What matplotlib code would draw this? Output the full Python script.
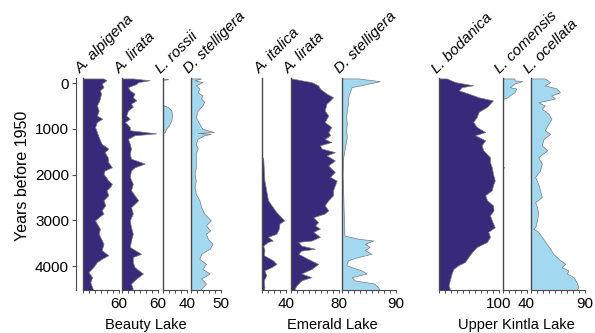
import matplotlib
matplotlib.use('Agg')
import matplotlib.pyplot as plt

plt.rcParams['font.family'] = ['Liberation Sans', 'DejaVu Sans']

# colours
dark = '#39297a'
light = '#a3d9f0'

# ---- Beauty Lake ----
ba_alp_age = [-100, -60, 10, 90, 160, 230, 380, 490, 600, 710, 780, 850, 960, 1070, 1180, 1330, 1430, 1510,
              1620, 1730, 1840, 1910, 1980, 2130, 2200, 2270, 2340, 2450, 2560, 2670, 2780, 2850, 2930, 3000,
              3070, 3180, 3290, 3400, 3510, 3650, 3760, 3840, 3910, 4020, 4130, 4240, 4350, 4460, 4520]
ba_alp_val = [35, 40, 32, 35, 29, 31, 28, 24, 27, 24, 33, 24, 21, 24, 27, 32, 43, 37,
              42, 43, 49, 37, 35, 43, 49, 46, 40, 43, 35, 38, 32, 35, 27, 21,
              24, 29, 27, 31, 35, 32, 43, 32, 24, 18, 10, 16, 13, 16, 18]

ba_lir_age = [-100, -60, -20, 20, 90, 160, 230, 310, 380, 450, 520, 600, 710, 780, 850, 960, 1030, 1100,
              1140, 1220, 1330, 1430, 1540, 1650, 1760, 1840, 1910, 2050, 2200, 2340, 2450, 2560, 2640,
              2710, 2850, 3000, 3150, 3290, 3440, 3580, 3730, 3800, 3910, 4020, 4160, 4270, 4380, 4490, 4520]
ba_lir_val = [18, 46, 27, 24, 10, 13, 21, 18, 24, 15, 18, 10, 7, 13, 5, 13, 13, 57,
              21, 10, 13, 15, 13, 15, 38, 21, 15, 13, 18, 15, 21, 27, 21,
              15, 18, 13, 15, 18, 15, 13, 32, 18, 18, 21, 35, 24, 15, 18, 16]

ba_ros_age = [-100, -90, -80, -70, 450, 490, 520, 600, 700, 810, 920, 1000, 1070, 1100, 4520]
ba_ros_val = [0, 8, 8, 0, 0, 1, 8, 14, 15, 14, 10, 5, 3, 0, 0]

ba_ste_age = [-100, -60, -20, 50, 120, 200, 270, 340, 410, 490, 600, 740, 890, 1000, 1070, 1090, 1110,
              1140, 1220, 1330, 1430, 1540, 1690, 1840, 1980, 2130, 2270, 2420, 2560, 2710, 2850, 3000,
              3110, 3220, 3290, 3400, 3510, 3620, 3730, 3840, 3950, 4060, 4160, 4270, 4380, 4490, 4520]
ba_ste_val = [17, 6, 19, 8, 14, 11, 19, 17, 22, 19, 11, 8, 14, 19, 38, 11, 33,
              22, 11, 8, 11, 8, 8, 8, 6, 8, 6, 8, 14, 17, 22, 33,
              25, 32, 25, 28, 36, 31, 17, 14, 25, 19, 31, 17, 25, 17, 16]

# ---- Emerald Lake ----
em_ita_age = [-100, 1600, 1650, 1900, 2130, 2340, 2560, 2710, 2820, 2890, 3000, 3070, 3180, 3290, 3360,
              3440, 3470, 3550, 3650, 3760, 3870, 3950, 4020, 4090, 4200, 4310, 4460, 4520]
em_ita_val = [0, 0, 2, 3, 4, 7, 10, 18, 24, 29, 37, 29, 28, 24, 10,
              18, 10, 2, 4, 3, 18, 24, 16, 4, 7, 3, 4, 3]

em_lir_age = [-100, -60, -20, 50, 120, 230, 310, 380, 450, 600, 710, 780, 850, 960, 1070, 1140, 1220,
              1290, 1360, 1430, 1510, 1580, 1690, 1800, 1870, 1940, 2050, 2130, 2230, 2340, 2450, 2560,
              2670, 2780, 2850, 2930, 3040, 3110, 3180, 3250, 3360, 3440, 3470, 3550, 3620, 3660, 3730,
              3840, 3950, 4060, 4160, 4240, 4310, 4420, 4490, 4520]
em_lir_val = [2, 18, 35, 46, 49, 60, 71, 66, 60, 57, 63, 60, 57, 68, 63, 66, 57,
              68, 49, 52, 74, 60, 74, 63, 68, 74, 66, 77, 74, 71, 71, 63,
              57, 63, 57, 38, 46, 41, 49, 38, 49, 35, 13, 18, 41, 18, 13,
              29, 46, 35, 18, 35, 18, 10, 7, 7]

em_ste_age = [-100, -40, 10, 90, 200, 310, 450, 600, 740, 890, 1030, 1180, 1330, 1470, 1620, 1980,
              3330, 3400, 3440, 3510, 3580, 3650, 3730, 3800, 3870, 3980, 4090, 4160, 4240, 4310, 4380,
              4460, 4520]
em_ste_val = [27, 63, 45, 16, 13, 10, 10, 8, 7, 8, 7, 8, 6, 4, 2, 1,
              4, 27, 52, 38, 46, 38, 49, 27, 10, 7, 32, 41, 16, 21, 54,
              60, 63]

# ---- Upper Kintla Lake ----
uk_bod_age = [-100, -20, 50, 90, 160, 230, 310, 380, 450, 520, 630, 740, 850, 960, 1070, 1140, 1250,
              1360, 1470, 1620, 1730, 1840, 1980, 2130, 2230, 2340, 2450, 2560, 2670, 2780, 2890, 3000,
              3150, 3250, 3360, 3470, 3580, 3690, 3800, 3910, 3980, 4060, 4160, 4310, 4420, 4490, 4520]
uk_bod_val = [13, 27, 57, 38, 33, 49, 66, 90, 85, 80, 66, 63, 57, 63, 77, 60, 77,
              71, 74, 85, 85, 88, 90, 93, 90, 88, 77, 80, 90, 91, 85, 88,
              93, 82, 85, 80, 63, 55, 49, 43, 32, 24, 21, 18, 16, 18, 16]

uk_com_age = [-100, -60, -40, 10, 90, 120, 200, 270, 320, 340, 360, 1830, 1840, 1860, 4520]
uk_com_val = [20, 20, 33, 20, 12, 23, 20, 12, 7, 2, 0, 0, 3, 0, 0]

uk_oce_age = [-100, -20, 50, 120, 200, 270, 340, 420, 490, 560, 670, 780, 890, 1030, 1110, 1220, 1360,
              1470, 1620, 1760, 1910, 2050, 2200, 2340, 2490, 2600, 2710, 2850, 3000, 3150, 3180, 3250,
              3360, 3510, 3620, 3730, 3840, 3950, 4020, 4090, 4160, 4240, 4350, 4460, 4520]
uk_oce_val = [23, 32, 23, 43, 48, 34, 40, 12, 23, 18, 29, 34, 29, 23, 32, 21, 18,
              27, 12, 18, 15, 7, 12, 15, 18, 7, 10, 12, 10, 7, 4, 12,
              18, 26, 32, 37, 46, 57, 51, 62, 60, 71, 76, 79, 76]

# name, ages, values, x max, colour, left edge (px)
panels = [
    ('A. alpigena', ba_alp_age, ba_alp_val, 60, dark, 82.5),
    ('A. lirata', ba_lir_age, ba_lir_val, 60, dark, 122),
    ('L. rossii', ba_ros_age, ba_ros_val, 40, light, 163),
    ('D. stelligera', ba_ste_age, ba_ste_val, 50, light, 191),
    ('A. italica', em_ita_age, em_ita_val, 40, dark, 262),
    ('A. lirata', em_lir_age, em_lir_val, 80, dark, 290.5),
    ('D. stelligera', em_ste_age, em_ste_val, 90, light, 342),
    ('L. bodanica', uk_bod_age, uk_bod_val, 100, dark, 439),
    ('L. comensis', uk_com_age, uk_com_val, 40, light, 502.5),
    ('L. ocellata', uk_oce_age, uk_oce_val, 90, light, 531),
]

W, H = 595, 333
top_px, bot_px = 78, 290
px_per_pct = 0.6
ylim = (4520, -110)
spine_c = '#4a4a4a'

fig = plt.figure(figsize=(W / 100, H / 100), dpi=100)

# shared depth axis
yax = fig.add_axes([76 / W, (H - bot_px) / H, 0.5 / W, (bot_px - top_px) / H])
yax.set_ylim(ylim)
yax.set_xticks([])
for s in ['top', 'right', 'bottom']:
    yax.spines[s].set_visible(False)
yax.spines['left'].set_color(spine_c)
yax.set_yticks([0, 1000, 2000, 3000, 4000])
yax.tick_params(axis='y', length=3, width=0.8, color=spine_c, labelsize=11, pad=2)
yax.patch.set_visible(False)
fig.text(23 / W, (H - 176) / H, 'Years before 1950', rotation=90, ha='center', va='center', fontsize=11.5)

for name, ages, vals, xmax, col, x0 in panels:
    ax = fig.add_axes([x0 / W, (H - bot_px) / H, xmax * px_per_pct / W, (bot_px - top_px) / H])
    ax.fill_betweenx(ages, 0, vals, facecolor=col, edgecolor='#7a7a7a', linewidth=0.5)
    ax.set_xlim(0, xmax)
    ax.set_ylim(ylim)
    ax.patch.set_visible(False)
    ax.spines['top'].set_visible(False)
    ax.spines['right'].set_visible(False)
    ax.spines['left'].set_color(spine_c)
    ax.spines['bottom'].set_color(spine_c)
    ax.spines['left'].set_linewidth(1.0)
    ax.spines['bottom'].set_linewidth(0.8)
    ax.set_yticks([])
    ax.set_xticks([xmax])
    ax.set_xticklabels([str(xmax)])
    ax.set_xticks(list(range(0, xmax, 10)), minor=True)
    ax.tick_params(axis='x', which='both', length=2.5, width=0.7, color=spine_c, labelsize=11, pad=2.5)
    ax.text(0, -150, name, rotation=45, rotation_mode='anchor', ha='left', va='bottom',
            fontsize=11, style='italic', transform=ax.transData, clip_on=False)

fig.text(146 / W, (H - 325) / H, 'Beauty Lake', ha='center', va='center', fontsize=10.5)
fig.text(332 / W, (H - 325) / H, 'Emerald Lake', ha='center', va='center', fontsize=10.5)
fig.text(516 / W, (H - 325) / H, 'Upper Kintla Lake', ha='center', va='center', fontsize=10.5)

fig.savefig('out.png', dpi=100)
